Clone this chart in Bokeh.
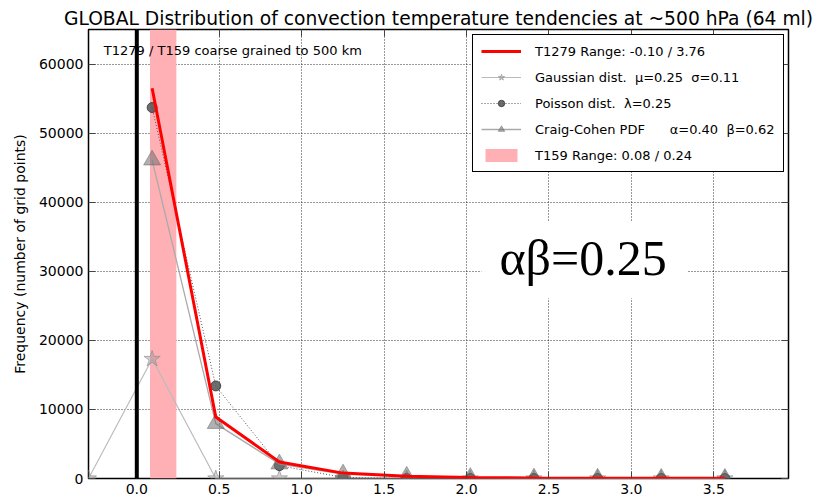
from bokeh.plotting import figure
from bokeh.models import (Range1d, Span, Label, BoxAnnotation, Legend, LegendItem,
                          FixedTicker, LinearAxis, NumeralTickFormatter,
                          CustomLabelingPolicy)
from bokeh.embed import file_html
from bokeh.resources import INLINE

# Bin centres of the tendency histogram (K/day), 10 bins between -0.10 and 3.76
bin_centres = [0.093, 0.479, 0.865, 1.251, 1.637, 2.023, 2.409, 2.795, 3.181, 3.567]
left_edge_centre = -0.293

# Frequencies (number of grid points)
t1279_counts = [56500, 8900, 2400, 780, 330, 130, 70, 45, 30, 20]
gauss_x = [left_edge_centre] + bin_centres
gauss_counts = [0, 17300, 0, 0, 0, 0, 0, 0, 0, 0, 0]
poisson_counts = [53700, 13400, 1850, 160, 10, 0, 0, 0, 0, 0]
craig_counts = [46100, 7950, 2100, 650, 330, 150, 80, 50, 30, 20]

# T159 range band
t159_range = (0.08, 0.24)

x_ticks = [0.0, 0.5, 1.0, 1.5, 2.0, 2.5, 3.0, 3.5]
y_ticks = [0, 10000, 20000, 30000, 40000, 50000, 60000]
x_limits = (-0.293, 3.953)
y_limits = (0, 65000)

FONT = "DejaVu Sans"

p = figure(width=819, height=500, output_backend="svg", toolbar_location=None,
           x_range=Range1d(*x_limits), y_range=Range1d(*y_limits),
           min_border_left=88, min_border_right=31, min_border_top=29, min_border_bottom=22,
           background_fill_color="white", border_fill_color="white")

p.title.text = "GLOBAL Distribution of convection temperature tendencies at ~500 hPa (64 ml)"
p.title.align = "center"
p.title.text_font = FONT
p.title.text_font_size = "18.7px"
p.title.text_font_style = "normal"
p.title.text_color = "black"
p.title.offset = 0
p.title.standoff = 2

p.outline_line_color = "black"
p.outline_line_width = 1.5
p.outline_line_alpha = 1

# Axes
p.xaxis.ticker = FixedTicker(ticks=x_ticks)
p.yaxis.ticker = FixedTicker(ticks=y_ticks)
p.xaxis.formatter = NumeralTickFormatter(format="0.0")
p.yaxis.formatter = NumeralTickFormatter(format="0")
for ax in (p.xaxis, p.yaxis):
    ax.axis_line_color = None
    ax.major_tick_in = 7
    ax.major_tick_out = 0
    ax.minor_tick_in = 0
    ax.minor_tick_out = 0
    ax.major_tick_line_color = "#444444"
    ax.major_label_text_font = FONT
    ax.major_label_text_font_size = "14px"
    ax.major_label_text_color = "black"
    ax.major_label_standoff = 5
p.yaxis.axis_label = "Frequency (number of grid points)"
p.yaxis.axis_label_text_font = FONT
p.yaxis.axis_label_text_font_size = "14px"
p.yaxis.axis_label_text_font_style = "normal"
p.yaxis.axis_label_text_color = "black"
p.yaxis.axis_label_standoff = 8

# Mirrored ticks on top and right, without labels
no_labels = CustomLabelingPolicy(code="return new Set()")
def mirror_axis(ticks):
    return LinearAxis(ticker=FixedTicker(ticks=ticks), major_label_policy=no_labels,
                      major_label_text_font_size="0px",
                      major_label_standoff=0, major_tick_in=7, major_tick_out=0,
                      minor_tick_in=0, minor_tick_out=0, axis_line_color=None,
                      major_tick_line_color="#444444")
p.add_layout(mirror_axis(x_ticks), "above")
p.add_layout(mirror_axis(y_ticks), "right")

# Grid
p.xgrid.ticker = FixedTicker(ticks=x_ticks)
p.ygrid.ticker = FixedTicker(ticks=y_ticks)
for g in (p.xgrid, p.ygrid):
    g.grid_line_color = "black"
    g.grid_line_dash = "1 2"
    g.grid_line_alpha = 0.8
    g.grid_line_width = 1

# T159 range band
band = p.quad(left=[t159_range[0]], right=[t159_range[1]], bottom=[y_limits[0]],
              top=[y_limits[1]], fill_color="#ffb0b5", line_color=None)

# Zero line
p.add_layout(Span(location=0, dimension="height", line_color="black", line_width=4))

# Gaussian distribution
g_line = p.line(gauss_x, gauss_counts, line_color="#bbbbbb", line_width=1.2)
g_pts = p.scatter(gauss_x, gauss_counts, marker="star", size=17, fill_color="#999999",
                  fill_alpha=0.45, line_color="#888888", line_alpha=0.6)

# Poisson distribution
po_line = p.line(bin_centres, poisson_counts, line_color="#555555", line_width=1,
                 line_dash="1 2")
po_pts = p.scatter(bin_centres, poisson_counts, marker="circle", size=10,
                   fill_color="#555555", fill_alpha=0.85, line_color="#222222",
                   line_alpha=0.7)

# Craig-Cohen PDF
c_line = p.line(bin_centres, craig_counts, line_color="#aaaaaa", line_width=1.3)
c_pts = p.scatter(bin_centres, craig_counts, marker="triangle", size=17,
                  fill_color="#707070", fill_alpha=0.55, line_color="#666666",
                  line_alpha=0.5)

# T1279 histogram
t_line = p.line(bin_centres, t1279_counts, line_color="#ff0000", line_width=3)

# Text annotations
p.add_layout(Label(x=-0.2, y=62000, text="T1279 / T159 coarse grained to 500 km",
                   text_font=FONT, text_font_size="13px", text_color="black",
                   text_baseline="alphabetic"))
p.add_layout(BoxAnnotation(left=2.09, right=3.34, bottom=26100, top=37200,
                           fill_color="white", fill_alpha=1, line_color=None))
p.add_layout(Label(x=2.707, y=31900, text="αβ=0.25", text_font="Liberation Serif",
                   text_font_size="50px", text_color="black", text_align="center",
                   text_baseline="alphabetic"))

legend = Legend(items=[
    LegendItem(label="T1279 Range: -0.10 / 3.76", renderers=[t_line]),
    LegendItem(label="Gaussian dist.  μ=0.25  σ=0.11", renderers=[g_line, g_pts]),
    LegendItem(label="Poisson dist.  λ=0.25", renderers=[po_line, po_pts]),
    LegendItem(label="Craig-Cohen PDF      α=0.40  β=0.62", renderers=[c_line, c_pts]),
    LegendItem(label="T159 Range: 0.08 / 0.24", renderers=[band]),
], location=(384, 306))
legend.border_line_color = "black"
legend.border_line_width = 1.5
legend.border_line_alpha = 1
legend.background_fill_color = "white"
legend.background_fill_alpha = 1
legend.label_text_font = FONT
legend.label_text_font_size = "13px"
legend.label_text_color = "black"
legend.glyph_width = 40
legend.glyph_height = 16
legend.spacing = 10
legend.padding = 8
legend.margin = 0
legend.label_standoff = 14
p.add_layout(legend)

open("out.html", "w").write(file_html(p, INLINE))
